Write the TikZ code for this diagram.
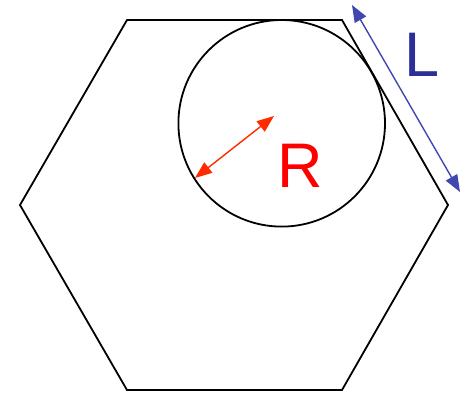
\documentclass[tikz,border=0pt]{standalone}
\usepackage{fontspec}
\setmainfont{Liberation Sans}
\usetikzlibrary{arrows.meta}
\definecolor{redarrow}{HTML}{FF2A00}
\definecolor{bluearrow}{HTML}{4048B0}
\definecolor{bluetext}{HTML}{2E2E99}
\begin{document}
\begin{tikzpicture}[x=1pt,y=-1pt,
  shape line/.style={draw=black,line width=1.8pt,line join=miter},
  dim arrow/.style={line width=1.4pt,{Triangle[length=17pt,width=13pt]}-{Triangle[length=17pt,width=13pt]}},
  big label/.style={inner sep=0pt,font=\fontsize{63}{63}\selectfont}]
\useasboundingbox (0,0) rectangle (461,394);
% hexagon vertices
\coordinate (h1) at (127,20);
\coordinate (h2) at (342,20);
\coordinate (h3) at (448,205);
\coordinate (h4) at (342,390);
\coordinate (h5) at (127,390);
\coordinate (h6) at (20,205);
\draw[shape line] (h1) -- (h2) -- (h3) -- (h4) -- (h5) -- (h6) -- cycle;
% inscribed circle
\node[shape line,circle,inner sep=0pt,minimum size=206.6pt] (circ) at (281.7,123.3) {};
% radius arrow
\coordinate (r1) at (274,116);
\coordinate (r2) at (195,178);
\draw[dim arrow,color=redarrow] (r1) -- (r2);
\node[big label,text=red] (R) at (300,165.5) {R};
% side length arrow
\coordinate (l1) at (352,5);
\coordinate (l2) at (460,192);
\draw[dim arrow,color=bluearrow] (l1) -- (l2);
\node[big label,text=bluetext] (L) at (422.5,54.5) {L};
\end{tikzpicture}
\end{document}
